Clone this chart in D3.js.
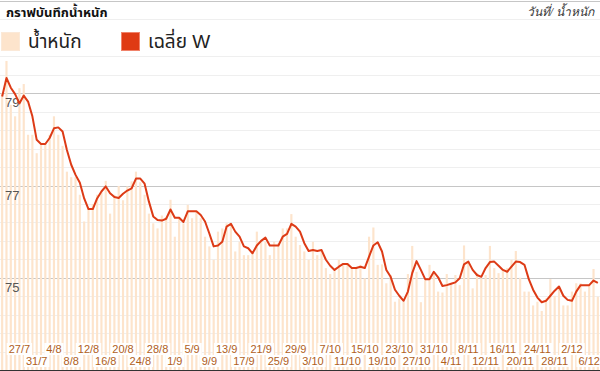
<!DOCTYPE html>
<meta charset="utf-8">
<title>กราฟบันทึกน้ำหนัก</title>
<style>
  body { margin: 0; background: #fff; }
  svg text { font-family: Arial, "Liberation Sans", "Noto Sans Thai", Tahoma, sans-serif; }
</style>
<body>
<script src="https://cdn.jsdelivr.net/npm/d3@7"></script>
<script>

// daily weight, 23/7 .. 8/12
var weights = [
  79.00, 79.70, 78.75, 78.50, 79.11, 79.20, 78.10, 78.10, 77.70, 77.89,
  77.89, 78.10, 78.50, 78.10, 77.86, 77.30, 77.18, 77.18, 76.80, 76.22,
  76.49, 76.60, 76.80, 76.85, 77.10, 76.39, 76.80, 76.99, 76.68, 76.98,
  77.09, 77.30, 77.07, 76.80, 76.39, 76.18, 76.07, 76.35, 76.32, 76.69,
  75.89, 76.32, 76.18, 76.58, 76.29, 76.43, 76.29, 75.89, 75.68, 75.39,
  76.00, 76.07, 76.18, 76.15, 75.57, 75.78, 75.49, 75.49, 75.57, 76.00,
  75.82, 75.78, 75.49, 75.78, 75.75, 76.07, 76.07, 76.38, 75.89, 75.71,
  75.57, 75.39, 75.78, 75.49, 75.57, 75.21, 75.08, 75.17, 75.39, 75.28,
  75.31, 75.21, 75.21, 75.28, 74.99, 75.89, 76.09, 75.28, 75.29, 74.88,
  75.06, 74.48, 74.55, 74.48, 75.08, 75.69, 75.13, 74.47, 74.95, 75.28,
  75.08, 74.70, 74.68, 75.08, 74.88, 75.06, 74.84, 75.70, 75.35, 74.77,
  75.10, 74.99, 75.06, 75.69, 75.21, 75.10, 75.15, 75.21, 75.39, 75.58,
  75.00, 74.70, 74.70, 74.40, 74.48, 74.28, 74.55, 74.97, 74.61, 74.81,
  74.40, 74.40, 74.70, 74.88, 74.88, 74.70, 74.84, 75.19, 74.59
];

// เฉลี่ย W line
var weeklyAvg = [
  78.93, 79.33, 79.12, 78.98, 78.78, 78.95, 78.82, 78.50, 77.99, 77.90,
  77.90, 78.03, 78.24, 78.26, 78.17, 77.77, 77.45, 77.23, 77.06, 76.72,
  76.49, 76.49, 76.72, 76.87, 76.98, 76.83, 76.75, 76.73, 76.82, 76.89,
  76.94, 77.15, 77.15, 77.04, 76.65, 76.33, 76.25, 76.24, 76.28, 76.48,
  76.30, 76.30, 76.21, 76.44, 76.44, 76.44, 76.36, 76.22, 75.96, 75.68,
  75.70, 75.78, 76.11, 76.17, 76.00, 75.89, 75.68, 75.64, 75.53, 75.70,
  75.80, 75.87, 75.70, 75.70, 75.70, 75.89, 75.95, 76.17, 76.11, 76.00,
  75.75, 75.58, 75.60, 75.58, 75.60, 75.39, 75.26, 75.17, 75.24, 75.30,
  75.30, 75.21, 75.21, 75.24, 75.21, 75.46, 75.70, 75.77, 75.57, 75.17,
  75.02, 74.74, 74.61, 74.50, 74.70, 75.10, 75.36, 75.17, 74.97, 74.97,
  75.13, 75.01, 74.82, 74.84, 74.87, 74.90, 74.99, 75.29, 75.35, 75.17,
  75.06, 75.02, 75.21, 75.34, 75.35, 75.26, 75.17, 75.13, 75.24, 75.35,
  75.34, 75.28, 74.97, 74.74, 74.57, 74.47, 74.50, 74.61, 74.72, 74.81,
  74.61, 74.52, 74.50, 74.70, 74.84, 74.84, 74.84, 74.94, 74.89
];

var yLabels = [79, 77, 75];
var legendNames = ['น้ำหนัก', 'เฉลี่ย W'];
var title = 'กราฟบันทึกน้ำหนัก';
var subtitle = 'วันที่/ น้ำหนัก';

var W = 600, H = 371;
var days = d3.timeDay.range(new Date(2013, 6, 23), new Date(2013, 11, 9));
var fmt = d3.timeFormat('%-d/%-m');
var tickLabels = days.map(fmt).filter(function(d, i) { return i >= 4 && i % 4 == 0; });

var svg = d3.select('body').append('svg').attr('width', W).attr('height', H);

var x = d3.scaleBand().domain(days.map(fmt)).range([0, W]).paddingInner(0.5).paddingOuter(0.25);
var y = d3.scaleLinear().domain([73, 81]).range([370, 1]);

// grid
var grid = d3.range(0, 21).map(function(k) { return 73 + k * 0.4; });
svg.selectAll('line.grid').data(grid).enter().append('line')
  .attr('x1', 0).attr('x2', W)
  .attr('y1', function(d) { return Math.round(y(d)) + 0.5; })
  .attr('y2', function(d) { return Math.round(y(d)) + 0.5; })
  .attr('stroke', function(d, i) { return i % 5 == 0 ? '#c6c6c6' : '#efefef'; });

// bars
var cx = function(d) { return x(d) + x.bandwidth() / 2; };
svg.selectAll('rect.bar').data(weights).enter().append('rect')
  .attr('x', function(d, i) { return x(fmt(days[i])); })
  .attr('width', x.bandwidth())
  .attr('y', function(d) { return y(d); })
  .attr('height', function(d) { return 370 - y(d); })
  .attr('fill', '#fde4cc');

// y labels
yLabels.forEach(function(v) {
  var t = svg.append('text').attr('x', 5).attr('y', y(v) + 14)
    .attr('font-size', 13).attr('fill', '#555').text(v);
});

// average line
var line = d3.line()
  .x(function(d, i) { return cx(fmt(days[i])); })
  .y(function(d) { return y(d); });
svg.append('path').datum(weeklyAvg)
  .attr('d', line)
  .attr('fill', 'none')
  .attr('stroke', '#dd3b16')
  .attr('stroke-width', 2)
  .attr('stroke-linejoin', 'round');

// x labels, two rows
var xl = svg.selectAll('g.xl').data(tickLabels).enter().append('g')
  .attr('transform', function(d, i) {
    return 'translate(' + cx(d) + ',' + (i % 2 == 0 ? 353 : 365) + ')';
  });
xl.append('text').attr('text-anchor', 'middle')
  .attr('font-size', 11).attr('fill', '#b0601c').text(function(d) { return d; })
  .each(function() {
    var b = this.getBBox();
    d3.select(this.parentNode).insert('rect', 'text')
      .attr('x', b.x - 2).attr('y', b.y).attr('width', b.width + 4).attr('height', b.height)
      .attr('fill', '#fff');
  });

svg.append('line').attr('x1', 0).attr('x2', W).attr('y1', 370.5).attr('y2', 370.5)
  .attr('stroke', '#333');

// header
svg.append('rect').attr('x', 0).attr('y', 23).attr('width', W).attr('height', 31).attr('fill', '#fff');
svg.append('text').attr('x', 6).attr('y', 17).attr('font-size', 13).attr('font-weight', 'bold')
  .attr('fill', '#111').text(title);
svg.append('text').attr('x', 594).attr('y', 16).attr('text-anchor', 'end')
  .attr('font-size', 12).attr('font-style', 'italic').attr('fill', '#333')
  .style('font-family', 'serif').text(subtitle);

var lg = svg.selectAll('g.lg').data(legendNames).enter().append('g')
  .attr('transform', function(d, i) { return 'translate(' + (1 + i * 120) + ',32)'; });
lg.append('rect').attr('x', 0.5).attr('y', 0.5).attr('width', 18).attr('height', 18)
  .attr('fill', function(d, i) { return i == 0 ? '#fde4cc' : '#df3a14'; })
  .attr('stroke', function(d, i) { return i == 0 ? '#fbe9d8' : '#f0826a'; });
lg.append('text').attr('x', 27).attr('y', 16).attr('font-size', 19).attr('fill', '#222')
  .text(function(d) { return d; });

</script>
</body>
